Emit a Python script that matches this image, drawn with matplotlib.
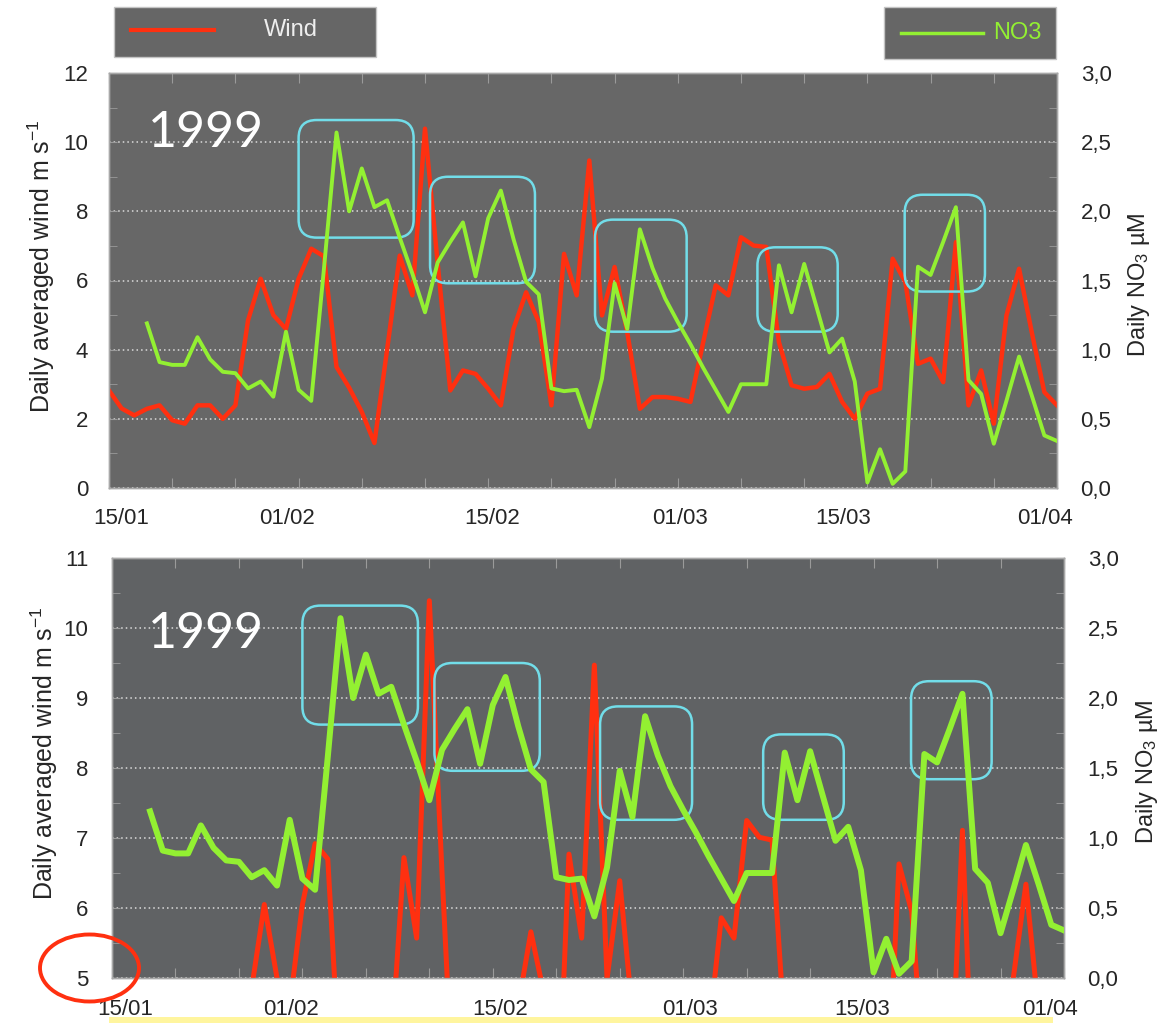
import numpy as np
import matplotlib
matplotlib.use('Agg')
import matplotlib.pyplot as plt
from matplotlib.patches import FancyBboxPatch, Rectangle, Ellipse
from matplotlib.lines import Line2D
from matplotlib.ticker import MultipleLocator, FuncFormatter
from matplotlib.transforms import blended_transform_factory

plt.rcParams['font.family'] = ['Liberation Sans', 'DejaVu Sans']
plt.rcParams['mathtext.default'] = 'regular'

# daily series, x = day of year 1999
wind_days = np.arange(15, 91)
wind = [2.82, 2.30, 2.10, 2.29, 2.39, 1.96, 1.86, 2.39, 2.39, 2.00,
        2.39, 4.85, 6.05, 5.00, 4.60, 6.05, 6.92, 6.70, 3.50, 2.90,
        2.20, 1.30, 4.00, 6.72, 5.57, 10.39, 6.50, 2.82, 3.40, 3.30,
        2.87, 2.39, 4.60, 5.66, 4.80, 2.39, 6.77, 5.57, 9.47, 4.99,
        6.39, 4.50, 2.29, 2.63, 2.63, 2.58, 2.49, 4.20, 5.86, 5.57,
        7.25, 7.01, 6.97, 4.22, 2.97, 2.87, 2.92, 3.30, 2.49, 2.00,
        2.73, 2.87, 6.63, 5.95, 3.59, 3.74, 3.06, 7.11, 2.39, 3.40,
        1.86, 4.99, 6.34, 4.51, 2.77, 2.39]

no3_days = np.arange(18, 91)
no3 = [1.19, 0.91, 0.89, 0.89, 1.09, 0.93, 0.84, 0.83, 0.72, 0.77,
       0.66, 1.13, 0.71, 0.63, 1.58, 2.57, 2.00, 2.31, 2.03, 2.08,
       1.81, 1.55, 1.27, 1.63, 1.78, 1.92, 1.53, 1.95, 2.15, 1.80,
       1.49, 1.40, 0.72, 0.70, 0.71, 0.44, 0.79, 1.48, 1.15, 1.87,
       1.59, 1.37, 1.20, 1.04, 0.87, 0.71, 0.55, 0.75, 0.75, 0.75,
       1.61, 1.27, 1.62, 1.30, 0.98, 1.08, 0.77, 0.04, 0.28, 0.03,
       0.12, 1.60, 1.54, 1.78, 2.03, 0.78, 0.68, 0.32, 0.63, 0.95,
       0.67, 0.38, 0.34]

date_labels = ['15/01', '01/02', '15/02', '01/03', '15/03', '01/04']
label_days_top = [16.0, 29.1, 45.3, 60.2, 73.1, 89.05]
label_days_bottom = [16.0, 29.1, 45.6, 60.5, 74.1, 88.9]

# NO3 episodes: first day, last day, low, high (uM)
peak_boxes = [(30.0, 39.1, 1.81, 2.66),
              (40.4, 48.7, 1.48, 2.25),
              (53.45, 60.7, 1.13, 1.94),
              (66.3, 72.65, 1.13, 1.74),
              (77.95, 84.3, 1.42, 2.12)]

W, H = 1174, 1023
RED = '#ff3010'
GREEN = '#93f032'
CYAN = '#72dde9'
TXT = '#262626'

fig = plt.figure(figsize=(W / 100, H / 100), dpi=100)


def px_rect(x0, y0, x1, y1):
    return [x0 / W, 1 - y1 / H, (x1 - x0) / W, (y1 - y0) / H]


def comma(v, pos):
    return f'{v:.1f}'.replace('.', ',')


def panel(rect, wlim, wstep, wminor, face, lw_w, lw_n, label_days, lpad, rpad):
    ax = fig.add_axes(rect)
    ax.set_facecolor(face)
    ax.plot(wind_days, wind, color=RED, lw=lw_w, zorder=3)
    ax.set_xlim(15, 90)
    ax.set_ylim(*wlim)
    ax.set_yticks(np.arange(wlim[0], wlim[1] + 0.1, wstep))
    ax.yaxis.set_minor_locator(MultipleLocator(wminor))
    ax.set_xticks(np.arange(15, 91, 5))
    ax.tick_params(axis='x', which='both', direction='in', top=True,
                   labelbottom=False, length=7, color='#9a9a9a')
    ax.tick_params(axis='y', which='both', direction='in', length=5.5,
                   color='#9a9a9a', labelsize=16, labelcolor=TXT, pad=lpad)
    ax.grid(axis='y', which='major', linestyle=(0, (1, 2)), color='#dcdcdc', lw=1.1)

    ax2 = ax.twinx()
    ax2.plot(no3_days, no3, color=GREEN, lw=lw_n, zorder=4)
    ax2.set_ylim(0, 3)
    ax2.yaxis.set_major_locator(MultipleLocator(0.5))
    ax2.yaxis.set_minor_locator(MultipleLocator(0.25))
    ax2.yaxis.set_major_formatter(FuncFormatter(comma))
    ax2.tick_params(axis='y', which='both', direction='in', length=5.5,
                    color='#9a9a9a', labelsize=16, labelcolor=TXT, pad=rpad)
    for a in (ax, ax2):
        for s in a.spines.values():
            s.set_color('#a8a8a8')
            s.set_linewidth(1)

    # rounded highlight boxes, corners ~18 px
    bb = ax.get_position()
    day_px = 75 / (bb.width * W)
    no3_px = 3 / (bb.height * H)
    r = 18 * day_px
    for d0, d1, lo, hi in peak_boxes:
        ax2.add_patch(FancyBboxPatch((d0, lo), d1 - d0, hi - lo,
                                     boxstyle=f'round,pad=0,rounding_size={r}',
                                     mutation_aspect=no3_px / day_px,
                                     fill=False, ec=CYAN, lw=1.8, zorder=2))

    tr = blended_transform_factory(ax.transData, ax.transAxes)
    for d, s in zip(label_days, date_labels):
        ax.text(d, -0.074, s, transform=tr, ha='center', va='center',
                fontsize=16, color=TXT)

    ax.text(-0.071, 0.535, 'Daily averaged wind m s$^{-1}$', transform=ax.transAxes,
            rotation=90, ha='center', va='center', fontsize=18, color=TXT)
    ax.text(1.087, 0.49, 'Daily NO$_3$ µM', transform=ax.transAxes,
            rotation=90, ha='center', va='center', fontsize=17, color=TXT)
    return ax


ax_top = panel(px_rect(109, 73, 1057, 488), (0, 12), 2, 1, '#676767',
               3.2, 2.8, label_days_top, 15, 17)
ax_top.text(0.041, 0.822, '1999', transform=ax_top.transAxes, family='Lato',
            fontsize=36, color='white', va='baseline')

ax_bot = panel(px_rect(112, 558, 1064, 978), (5, 11), 1, 0.5, '#606264',
               3.6, 4.3, label_days_bottom, 17, 17)
ax_bot.text(0.038, 0.786, '1999', transform=ax_bot.transAxes, family='Lato',
            fontsize=36, color='white', va='baseline')

# legend boxes above the top panel
fig.add_artist(Rectangle((114 / W, 1 - 57 / H), 262 / W, 50 / H,
                         transform=fig.transFigure, fc='#666666', ec='#c4c4c4', lw=1))
fig.add_artist(Line2D([131 / W, 214 / W], [1 - 30 / H] * 2,
                      transform=fig.transFigure, color=RED, lw=3))
fig.text(291 / W, 1 - 30 / H, 'Wind', ha='center', va='center',
         fontsize=17, color='#eeeeee')

fig.add_artist(Rectangle((884 / W, 1 - 59 / H), 172 / W, 52 / H,
                         transform=fig.transFigure, fc='#666666', ec='#c4c4c4', lw=1))
fig.add_artist(Line2D([901 / W, 983 / W], [1 - 33 / H] * 2,
                      transform=fig.transFigure, color=GREEN, lw=2.5))
fig.text(993 / W, 1 - 33 / H, 'NO3', ha='left', va='center',
         fontsize=17, color=GREEN)

# marker around the clipped axis origin and strip along the bottom edge
fig.add_artist(Ellipse((89.5 / W, 1 - 968 / H), 99 / W, 67 / H,
                       transform=fig.transFigure, fill=False, ec=RED, lw=2.8))
fig.add_artist(Rectangle((109 / W, 0), 944 / W, 6 / H,
                         transform=fig.transFigure, fc='#fff59e', ec='none'))

fig.savefig('out.png', dpi=100)
